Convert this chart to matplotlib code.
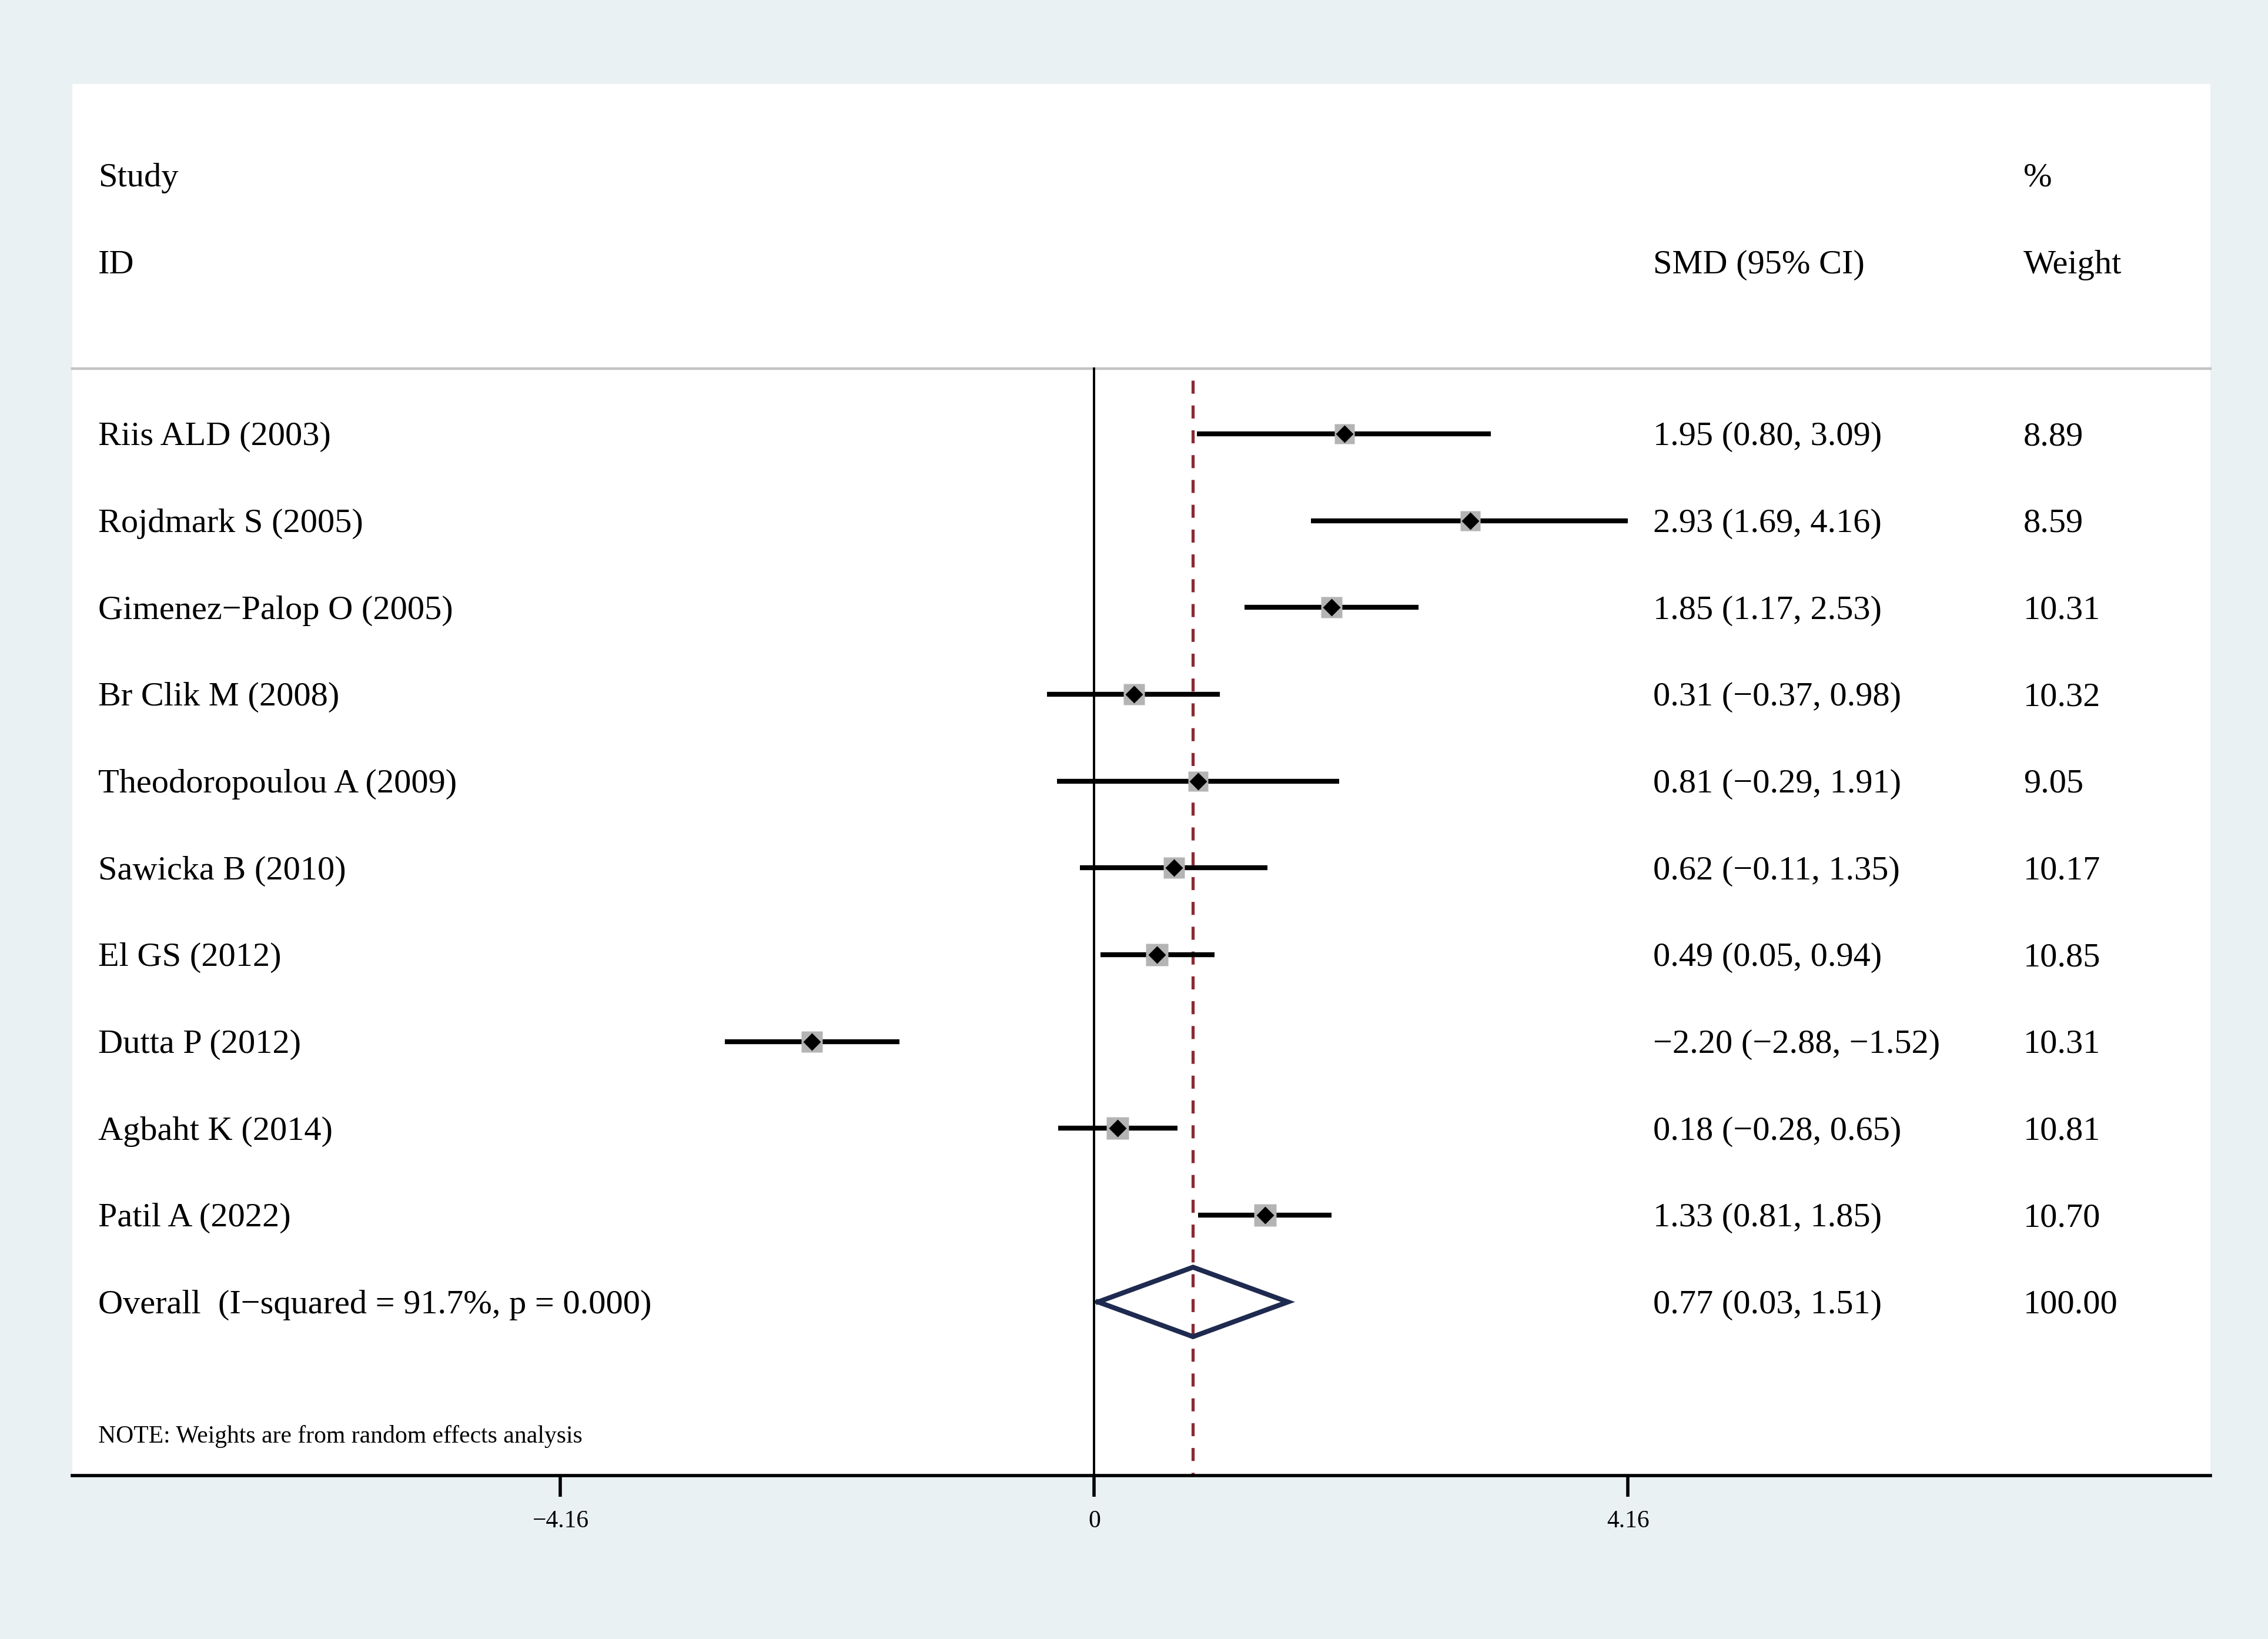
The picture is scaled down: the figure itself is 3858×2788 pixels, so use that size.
import matplotlib
matplotlib.use("Agg")
import matplotlib.pyplot as plt
from matplotlib.transforms import blended_transform_factory

plt.rcParams['font.family'] = ['Liberation Serif', 'DejaVu Serif']

studies = ["Riis ALD (2003)", "Rojdmark S (2005)", "Gimenez\u2212Palop O (2005)",
           "Br Clik M (2008)", "Theodoropoulou A (2009)", "Sawicka B (2010)",
           "El GS (2012)", "Dutta P (2012)", "Agbaht K (2014)", "Patil A (2022)"]
smd = [1.95, 2.93, 1.85, 0.31, 0.81, 0.62, 0.49, -2.20, 0.18, 1.33]
ci_low = [0.80, 1.69, 1.17, -0.37, -0.29, -0.11, 0.05, -2.88, -0.28, 0.81]
ci_high = [3.09, 4.16, 2.53, 0.98, 1.91, 1.35, 0.94, -1.52, 0.65, 1.85]
weights = [8.89, 8.59, 10.31, 10.32, 9.05, 10.17, 10.85, 10.31, 10.81, 10.70]

overall_label = "Overall  (I\u2212squared = 91.7%, p = 0.000)"
overall_smd = 0.77
overall_low = 0.03
overall_high = 1.51
overall_weight = 100.00

tick_values = [-4.16, 0, 4.16]
tick_labels = ["\u22124.16", "0", "4.16"]
note_text = "NOTE: Weights are from random effects analysis"

BG = "#eaf1f3"


def fmt(v):
    s = f"{v:.2f}"
    return s.replace("-", "\u2212")


fig = plt.figure(figsize=(19.29, 13.94), dpi=200, facecolor=BG)
ax = fig.add_axes([50 / 1568, 1 - 1020 / 1133, 1478 / 1568, (1020 - 58) / 1133])
ax.set_facecolor("white")

x_left, x_right = (50 - 756.5) / 88.7, (1528 - 756.5) / 88.7
ax.set_xlim(x_left, x_right)
ax.set_ylim(12.0, -4.033)

for s in ["top", "left", "right"]:
    ax.spines[s].set_visible(False)
ax.spines["bottom"].set_linewidth(2.0)
ax.set_yticks([])
ax.set_xticks(tick_values)
ax.set_xticklabels(tick_labels, fontsize=15)
ax.tick_params(axis="x", length=13, width=2, pad=8)

tr = blended_transform_factory(ax.transAxes, ax.transData)
FS = 21
DY = 0.035
x_name, x_ci, x_w = 18 / 1478, 1093 / 1478, 1349 / 1478


def txt(x, y, s, size=FS):
    ax.text(x, y + DY, s, transform=tr, fontsize=size, va="center", ha="left")


# header
txt(x_name, -2.983, "Study")
txt(x_name, -1.983, "ID")
txt(x_ci, -1.983, "SMD (95% CI)")
txt(x_w, -2.983, "%")
txt(x_w, -1.983, "Weight")

# separator
ax.plot([0, 1], [-0.75, -0.75], transform=tr, color="#c3c3c3", lw=1.6, clip_on=False)

# reference lines
ax.plot([0, 0], [-0.75, 12.0], color="black", lw=1.4, zorder=2)
ax.plot([overall_smd, overall_smd], [-0.62, 12.0], color="#8b2a35", lw=1.9,
        dashes=(4.2, 3.8), zorder=2)

for i, name in enumerate(studies):
    ax.plot([ci_low[i], ci_high[i]], [i, i], color="black", lw=3.0,
            solid_capstyle="butt", zorder=3)
    ax.plot(smd[i], i, marker="s", ms=13.2 * (weights[i] / 10.31) ** 0.5,
            color="#b4b4b4", mec="none", zorder=3.5)
    ax.plot(smd[i], i, marker="D", ms=7.6, color="black", mec="none", zorder=5)
    txt(x_name, i, name)
    txt(x_ci, i, f"{fmt(smd[i])} ({fmt(ci_low[i])}, {fmt(ci_high[i])})")
    txt(x_w, i, f"{weights[i]:.2f}")

yo = len(studies)
ax.plot([overall_low, overall_smd, overall_high, overall_smd, overall_low],
        [yo, yo - 0.4, yo, yo + 0.4, yo], color="#1e2a4f", lw=3.0, zorder=4,
        solid_joinstyle="miter")
txt(x_name, yo, overall_label)
txt(x_ci, yo, f"{fmt(overall_smd)} ({fmt(overall_low)}, {fmt(overall_high)})")
txt(x_w, yo, f"{overall_weight:.2f}")

txt(x_name, 11.517, note_text, size=15)

fig.savefig("out.png", dpi=200, facecolor=BG)
